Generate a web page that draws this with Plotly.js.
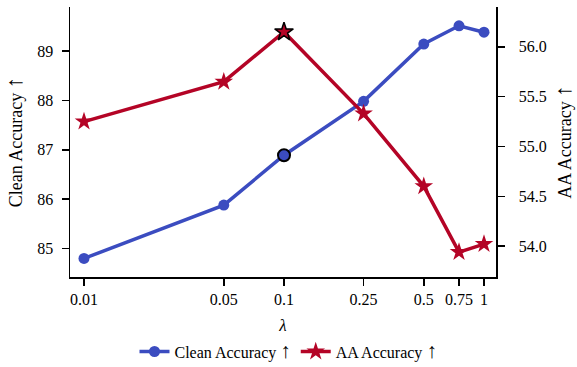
<!DOCTYPE html>
<html><head><meta charset="utf-8">
<script src="https://cdn.plot.ly/plotly-3.0.1.min.js"></script>
<style>body{margin:0;background:#fff}#c{width:577px;height:367px}</style>
</head><body><div id="c"></div>
<script>
const lambdas = [0.01, 0.05, 0.1, 0.25, 0.5, 0.75, 1];
const tickLabels = ['0.01','0.05','0.1','0.25','0.5','0.75','1'];
const cleanAcc = [84.80, 85.88, 86.89, 87.98, 89.14, 89.51, 89.38];
const aaAcc = [55.25, 55.65, 56.15, 55.33, 54.60, 53.94, 54.02];
const bestLambda = 0.1;
const bestIdx = lambdas.indexOf(bestLambda);

const blue = '#3b4cc0', red = '#b40426';
const font = {family: '"Liberation Serif", "Times New Roman", serif', color: '#000'};
const f = s => Object.assign({size: s}, font);
const arrow = s => '<span style="font-size:' + s + 'px">↑</span>';

const traces = [
  {x: lambdas, y: cleanAcc, name: 'Clean Accuracy ' + arrow(21), mode: 'lines+markers', yaxis: 'y',
   line: {color: blue, width: 3.5}, marker: {symbol: 'circle', size: 11, color: blue}},
  {x: lambdas, y: aaAcc, name: 'AA Accuracy ' + arrow(21), mode: 'lines+markers', yaxis: 'y2',
   line: {color: red, width: 3.5}, marker: {symbol: 'star', size: 14, color: red}},
  {x: [lambdas[bestIdx]], y: [cleanAcc[bestIdx]], mode: 'markers', yaxis: 'y', showlegend: false,
   marker: {symbol: 'circle', size: 12, color: blue, line: {color: '#000', width: 2}}},
  {x: [lambdas[bestIdx]], y: [aaAcc[bestIdx]], mode: 'markers', yaxis: 'y2', showlegend: false,
   marker: {symbol: 'star', size: 14, color: red, line: {color: '#000', width: 1.5}}}
];

const axisCommon = {showgrid: false, zeroline: false, showline: true, linecolor: '#000', linewidth: 1.5,
  ticks: 'outside', ticklen: 7, tickwidth: 1.5, tickcolor: '#000', tickfont: f(16)};

const layout = {
  width: 577, height: 367,
  margin: {l: 70, r: 81, t: 7, b: 90},
  paper_bgcolor: '#fff', plot_bgcolor: '#fff',
  font: f(16),
  showlegend: true,
  legend: {orientation: 'h', x: 0.5, xref: 'container', xanchor: 'center',
           y: 0.042, yref: 'container', yanchor: 'middle', font: f(16)},
  xaxis: Object.assign({type: 'log', range: [-2.07, 0.06], tickvals: lambdas, ticktext: tickLabels,
          title: {text: '<i>λ</i>', font: f(17), standoff: 12}}, axisCommon),
  yaxis: Object.assign({range: [84.425, 89.89], tickvals: [85, 86, 87, 88, 89], ticklabelstandoff: 5,
          title: {text: 'Clean Accuracy ' + arrow(23), font: f(18), standoff: 10}}, axisCommon),
  yaxis2: Object.assign({overlaying: 'y', side: 'right', range: [53.69, 56.40], ticklabelstandoff: 11,
           tickvals: [54.0, 54.5, 55.0, 55.5, 56.0], ticktext: ['54.0','54.5','55.0','55.5','56.0'],
           title: {text: 'AA Accuracy ' + arrow(23), font: f(18), standoff: 12}}, axisCommon)
};

Plotly.newPlot('c', traces, layout, {displayModeBar: false, staticPlot: true});
</script></body></html>
